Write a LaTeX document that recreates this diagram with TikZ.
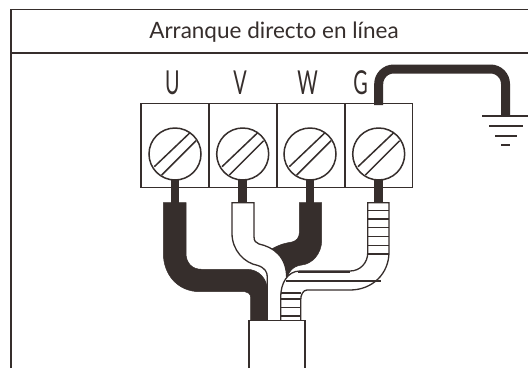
\documentclass[tikz,border=0pt]{standalone}
\usepackage{fontspec}
\setmainfont{Lato}
\definecolor{wiredark}{HTML}{362E2C}
\tikzset{
    outline/.style={draw=wiredark, line width=1.5pt},
    wirefill/.style={fill=wiredark, draw=wiredark, line width=0.5pt},
    wirewhite/.style={fill=white, draw=wiredark, line width=1.3pt},
    termlabel/.style={font=\fontsize{33}{33}\selectfont, text=wiredark, xscale=0.6, inner sep=0pt}
}
\begin{document}
\begin{tikzpicture}[x=1pt,y=-1pt]
    \useasboundingbox (0,0) rectangle (528,368);
    % Frame
    \fill[white] (0,0) rectangle (528,368);
    \draw[wiredark, line width=1.4pt] (11,368) -- (11,9.5) -- (528,9.5);
    \draw[wiredark, line width=1.4pt] (11,53) -- (528,53);
    \node[font=\fontsize{22.5}{22.5}\selectfont, text=wiredark] (title) at (274,32) {Arranque directo en línea};
    % Terminal labels
    \node[termlabel] (labelU) at (172.3,83) {U};
    \node[termlabel] (labelV) at (240,83) {V};
    \node[termlabel] (labelW) at (307.7,83) {W};
    \node[termlabel] (labelG) at (360.7,83) {G};
    % Earth wire
    \draw[wiredark, line width=9pt, rounded corners=15pt] (378.7,105) -- (378.7,69) -- (505.5,69) -- (505.5,116);
    \draw[wiredark, line width=2pt] (482.3,116) -- (528,116);
    \draw[wiredark, line width=2pt] (489,126.3) -- (522.7,126.3);
    \draw[wiredark, line width=2pt] (495,136) -- (516.7,136);
    \draw[wiredark, line width=2pt] (501,145.3) -- (510.3,145.3);
    % Terminal block
    \foreach \xleft in {141,209,277,344.5}
        \draw[outline] (\xleft,103.5) rectangle ++(68,84.2);
    % Screws and short leads
    \foreach \xc in {175,242.7,310,378.7} {
        \fill[wiredark] (\xc-4.4,178) rectangle (\xc+4.4,204);
        \draw[outline, fill=white] (\xc,154) circle[radius=26];
        \draw[outline] (\xc-20.7,166.7) -- (\xc+15,132.7);
        \draw[outline] (\xc-13.3,175) -- (\xc+21,140.7);
    }
    % Wire U
    \draw[wirefill] (163.3,202.7) -- (186,202.7) -- (186,253)
        .. controls (186,263) and (192,269.3) .. (201.7,269.3) -- (246.7,269.3)
        .. controls (259,269.3) and (267.3,279) .. (267.3,290) -- (267.3,320.7) -- (250.7,320.7) -- (250.7,298)
        .. controls (250.7,294) and (248,291.7) .. (245,291.7) -- (200,291.7)
        .. controls (178,291.7) and (163.3,275) .. (163.3,253) -- cycle;
    % Wire W
    \draw[wirefill] (299.3,202.7) -- (321.7,202.7) -- (321.7,240)
        .. controls (321.7,254) and (312,264) .. (301.7,265)
        .. controls (293,266) and (287,272) .. (286.7,283) -- (270,250)
        .. controls (280,244) and (286,243) .. (292,242)
        .. controls (296,241) and (299.3,238) .. (299.3,233) -- cycle;
    % Wire V
    \draw[wirewhite] (232,202.7) -- (254,202.7) -- (254,236.7)
        .. controls (254,241) and (256,243) .. (259,244)
        .. controls (273,247) and (286.7,256) .. (286.7,278) -- (286.7,283) -- (280.7,320.7)
        -- (267.3,320.7) -- (267.3,277)
        .. controls (267.3,272) and (265,268) .. (258,265.5)
        .. controls (244,263) and (232,250) .. (232,233.3) -- cycle;
    % Wire G
    \draw[wirewhite] (367.7,202.7) -- (389,202.7) -- (389,252)
        .. controls (389,274) and (372,290) .. (350,290) -- (307,290)
        .. controls (303,290) and (300.7,295) .. (300.7,300) -- (300.7,320.7) -- (280.7,320.7) -- (280.7,297)
        .. controls (280.7,284) and (287,271) .. (300,271) -- (350,271)
        .. controls (360,271) and (367.7,263) .. (367.7,253) -- cycle;
    \draw[wiredark, line width=2pt] (298,271.5) -- (350,271.5);
    \draw[outline] (286,281) -- (381,281);
    \foreach \ystripe in {210.7,219,227.3,236.7,245.7,254}
        \draw[outline] (367.7,\ystripe) -- (389,\ystripe);
    \foreach \ystripe in {293,299,307.7,316}
        \draw[outline] (280.7,\ystripe) -- (301,\ystripe);
    % Cable jacket
    \draw[outline, fill=white] (249,368) -- (249,320.7) -- (305,320.7) -- (305,368);
\end{tikzpicture}
\end{document}
